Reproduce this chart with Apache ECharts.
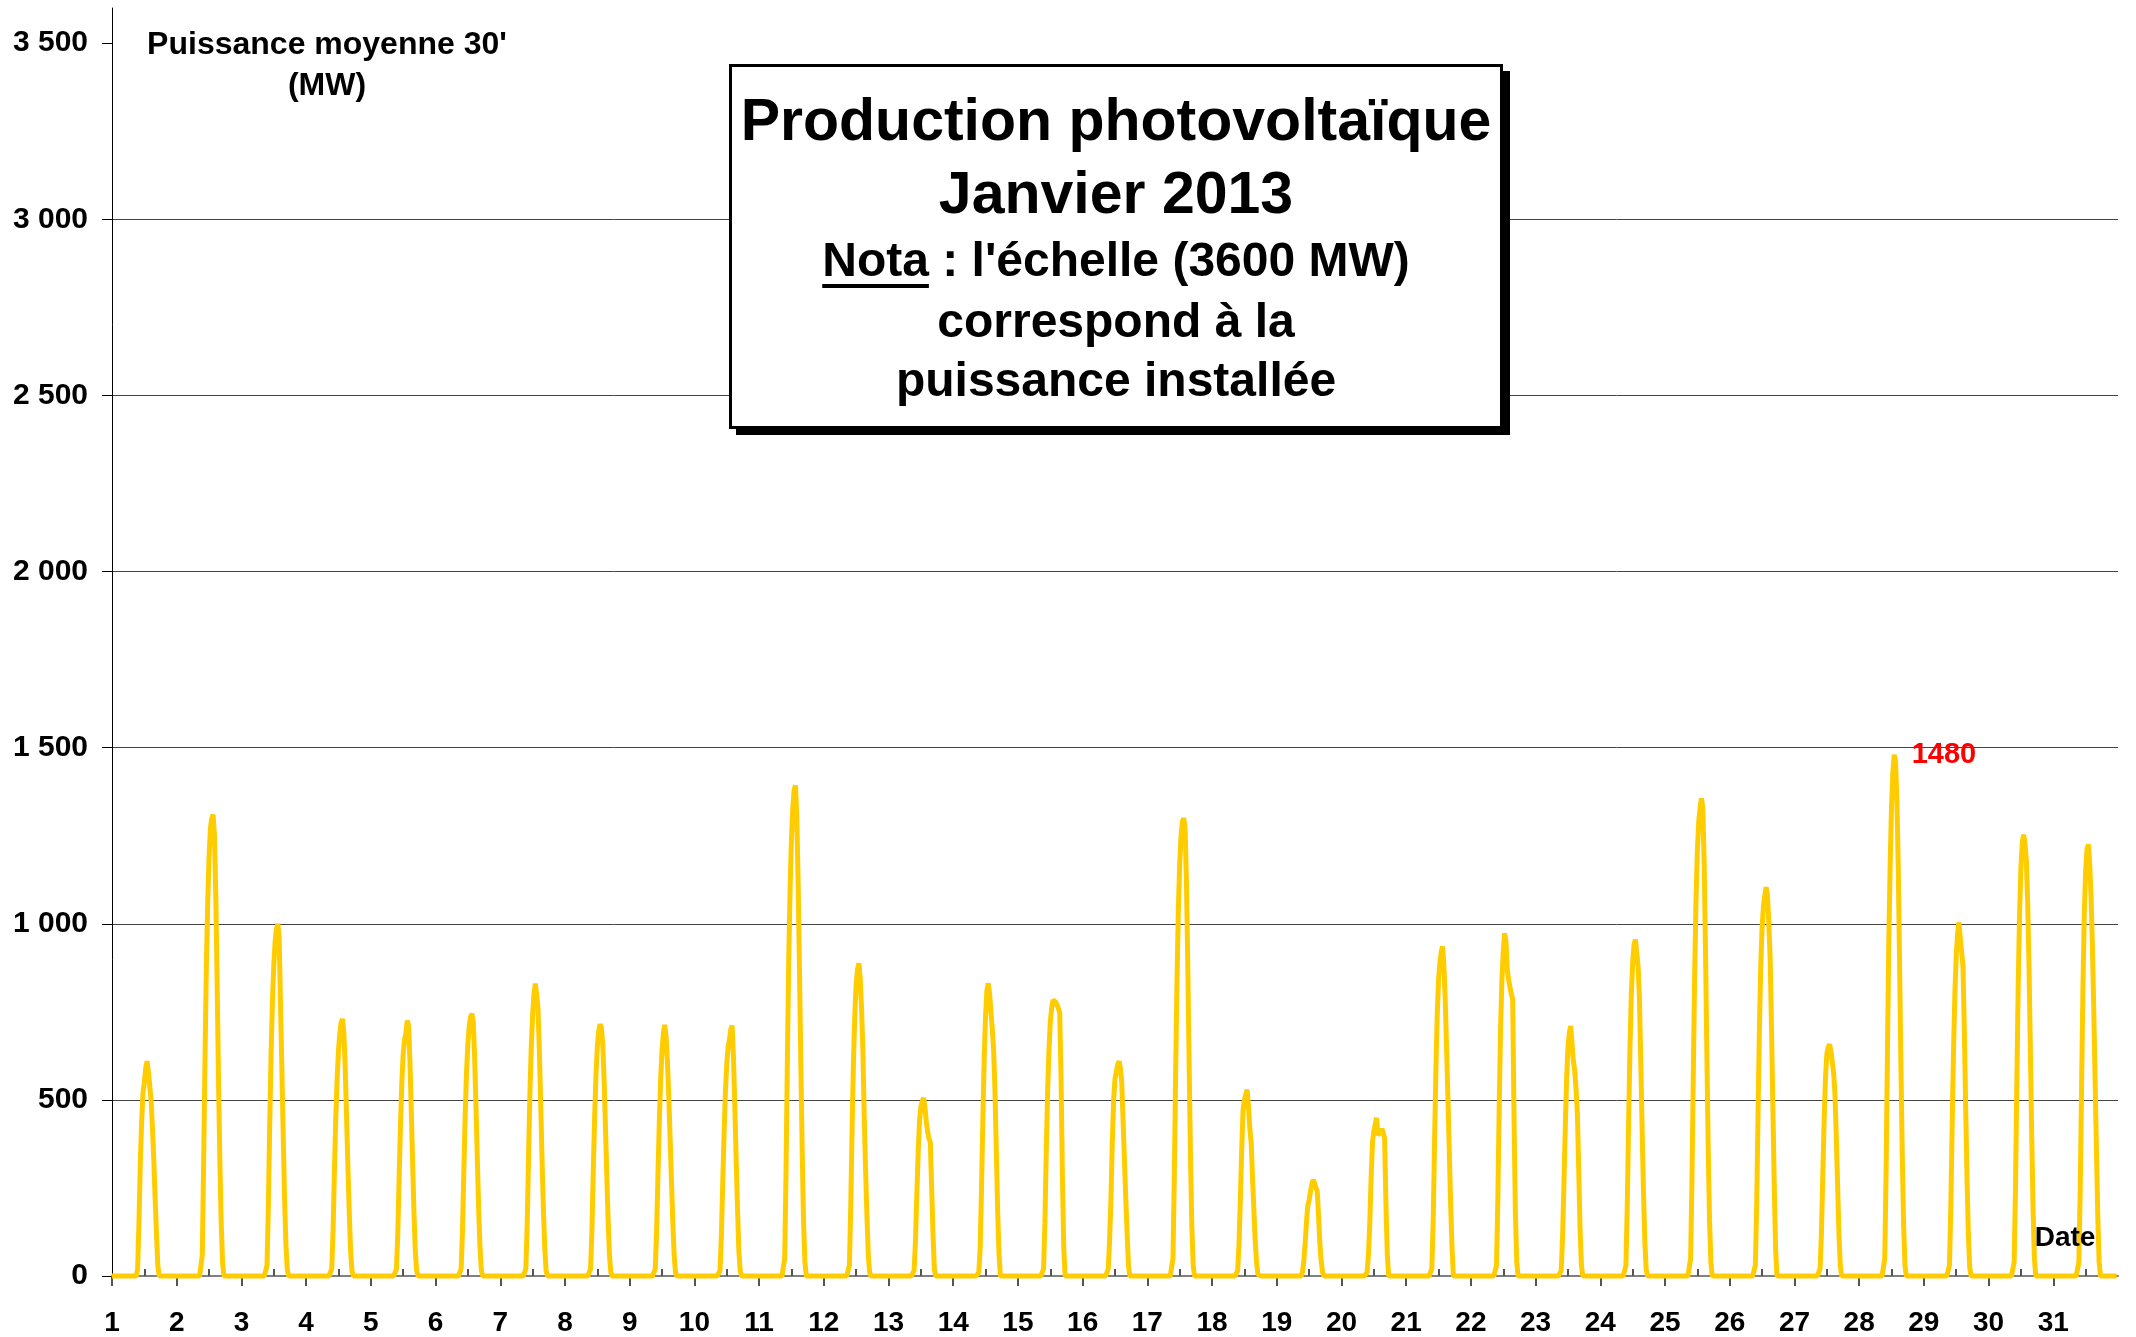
<!DOCTYPE html>
<html>
<head>
<meta charset="utf-8">
<title>Production photovoltaïque Janvier 2013</title>
<script src="https://cdn.jsdelivr.net/npm/echarts@6.0.0/dist/echarts.min.js"></script>
<style>
  html, body { margin: 0; padding: 0; background: #fff; }
  #chart { width: 2136px; height: 1337px; }
</style>
</head>
<body>
<div id="chart"></div>
<script>
// jours du mois
const days = [1, 2, 3, 4, 5, 6, 7, 8, 9, 10, 11, 12, 13, 14, 15, 16,
  17, 18, 19, 20, 21, 22, 23, 24, 25, 26, 27, 28, 29, 30, 31];
// graduations de l'axe des puissances (MW)
const yTicks = [0, 500, 1000, 1500, 2000, 2500, 3000, 3500];

// puissance moyenne 30' (MW), pas demi-horaires de 9h00 à 17h30, reste de la journée à 0
const firstSlot = 18;
const slotsPerDay = 48;
const jour01 = [0, 20, 150, 320, 440, 520, 550, 590, 610, 580, 540, 500, 420, 330, 220, 120, 30, 0];
const jour02 = [0, 60, 330, 620, 880, 1060, 1190, 1270, 1300, 1310, 1250, 1080, 830, 560, 330, 150, 40, 0];
const jour03 = [0, 30, 200, 430, 630, 780, 880, 950, 985, 1000, 960, 770, 590, 400, 220, 90, 20, 0];
const jour04 = [0, 20, 130, 300, 450, 560, 640, 690, 720, 730, 690, 590, 450, 310, 180, 70, 15, 0];
const jour05 = [0, 20, 120, 280, 430, 550, 630, 670, 690, 725, 710, 610, 470, 320, 180, 70, 15, 0];
const jour06 = [0, 20, 130, 300, 460, 580, 660, 710, 735, 745, 720, 620, 480, 330, 190, 80, 15, 0];
const jour07 = [0, 20, 150, 340, 520, 650, 740, 800, 830, 800, 760, 640, 490, 330, 190, 80, 15, 0];
const jour08 = [0, 20, 130, 300, 450, 570, 650, 695, 715, 705, 660, 560, 430, 290, 160, 60, 10, 0];
const jour09 = [0, 20, 130, 290, 440, 560, 640, 690, 713, 680, 610, 510, 390, 270, 150, 60, 10, 0];
const jour10 = [0, 15, 110, 260, 400, 520, 600, 650, 670, 700, 711, 620, 480, 330, 190, 70, 15, 0];
const jour11 = [0, 50, 300, 620, 900, 1100, 1240, 1330, 1380, 1393, 1300, 1110, 860, 590, 350, 150, 40, 0];
const jour12 = [0, 30, 200, 420, 610, 740, 830, 870, 888, 846, 760, 640, 450, 300, 170, 60, 10, 0];
const jour13 = [0, 15, 100, 230, 350, 440, 480, 495, 506, 480, 440, 410, 390, 380, 250, 120, 20, 0];
const jour14 = [0, 10, 80, 250, 450, 620, 740, 810, 831, 800, 750, 700, 640, 520, 350, 180, 60, 0];
const jour15 = [0, 20, 150, 350, 520, 640, 720, 760, 783, 780, 778, 775, 760, 747, 560, 280, 80, 0];
const jour16 = [0, 20, 100, 220, 380, 500, 560, 580, 600, 610, 590, 550, 440, 330, 220, 120, 30, 0];
const jour17 = [0, 50, 280, 580, 840, 1040, 1170, 1250, 1290, 1300, 1270, 1120, 880, 600, 340, 140, 30, 0];
const jour18 = [0, 15, 90, 220, 360, 470, 500, 515, 529, 480, 420, 380, 280, 190, 100, 40, 5, 0];
const jour19 = [0, 10, 40, 90, 150, 200, 215, 240, 260, 273, 265, 250, 242, 170, 90, 40, 10, 0];
const jour20 = [0, 10, 60, 150, 280, 380, 410, 430, 449, 400, 400, 410, 418, 405, 392, 200, 60, 0];
const jour21 = [0, 20, 150, 370, 580, 740, 840, 890, 920, 936, 880, 780, 640, 500, 350, 200, 80, 0];
const jour22 = [0, 30, 220, 480, 700, 840, 920, 973, 950, 869, 840, 820, 800, 786, 450, 180, 40, 0];
const jour23 = [0, 15, 110, 260, 420, 560, 650, 690, 710, 660, 610, 584, 530, 460, 300, 130, 30, 0];
const jour24 = [0, 30, 200, 440, 650, 800, 890, 940, 955, 957, 880, 790, 610, 420, 240, 100, 20, 0];
const jour25 = [0, 50, 280, 580, 860, 1070, 1210, 1290, 1330, 1356, 1330, 1180, 930, 640, 370, 160, 40, 0];
const jour26 = [0, 30, 200, 460, 700, 880, 990, 1050, 1080, 1104, 1080, 1000, 900, 700, 480, 260, 80, 0];
const jour27 = [0, 20, 120, 280, 440, 560, 630, 650, 658, 640, 610, 580, 520, 400, 260, 120, 30, 0];
const jour28 = [0, 50, 300, 640, 950, 1170, 1330, 1430, 1480, 1460, 1350, 1160, 880, 590, 340, 140, 30, 0];
const jour29 = [0, 30, 200, 430, 640, 800, 910, 970, 1004, 960, 920, 880, 700, 480, 280, 120, 25, 0];
const jour30 = [0, 40, 260, 560, 830, 1030, 1160, 1230, 1253, 1230, 1180, 1060, 880, 640, 400, 190, 50, 0];
const jour31 = [0, 40, 250, 540, 820, 1030, 1150, 1211, 1225, 1170, 1080, 940, 760, 560, 360, 170, 40, 0];

const profiles = [jour01, jour02, jour03, jour04, jour05, jour06, jour07, jour08, jour09, jour10,
  jour11, jour12, jour13, jour14, jour15, jour16, jour17, jour18, jour19, jour20, jour21, jour22,
  jour23, jour24, jour25, jour26, jour27, jour28, jour29, jour30, jour31];

// série complète : x = jour + fraction de journée
const serie = [];
days.forEach(function (d, i) {
  for (let s = 0; s < slotsPerDay; s++) {
    const k = s - firstSlot;
    const v = (k >= 0 && k < profiles[i].length) ? profiles[i][k] : 0;
    serie.push([d + s / slotsPerDay, v]);
  }
});
const middayTicks = days.map(function (d) { return d + 0.5; });

const FONT = '"Liberation Sans", Arial, sans-serif';

function milliers(v) {
  return String(v).replace(/\B(?=(\d{3})+(?!\d))/g, ' ');
}

// soulignement de "Nota" : mesure du texte
const ctx = document.createElement('canvas').getContext('2d');
ctx.font = 'bold 48px ' + FONT;
const notaLine = "Nota : l'échelle (3600 MW)";
const lineW = ctx.measureText(notaLine).width;
const notaW = ctx.measureText('Nota').width;
const boxCx = 1116;

const chart = echarts.init(document.getElementById('chart'));
const option = {
  animation: false,
  backgroundColor: '#fff',
  grid: { left: 112, right: 18, top: 8, bottom: 61 },
  xAxis: [
    {
      type: 'value',
      min: 1,
      max: 32,
      interval: 1,
      axisLine: { show: true, lineStyle: { color: '#808080', width: 2 } },
      axisTick: { show: true, inside: false, length: 10, lineStyle: { color: '#555', width: 2 } },
      axisLabel: {
        margin: 33,
        color: '#000',
        fontFamily: FONT,
        fontWeight: 'bold',
        fontSize: 28,
        showMaxLabel: false,
        formatter: function (v) { return v < 32 ? String(v) : ''; }
      },
      splitLine: { show: false }
    },
    {
      type: 'value',
      min: 1,
      max: 32,
      position: 'bottom',
      axisLine: { show: false },
      axisTick: { show: true, inside: true, length: 7, customValues: middayTicks, lineStyle: { color: '#555', width: 2 } },
      axisLabel: { show: false },
      splitLine: { show: false }
    }
  ],
  yAxis: {
    type: 'value',
    min: 0,
    max: 3600,
    interval: 500,
    axisLine: { show: true, lineStyle: { color: '#000', width: 1 } },
    axisTick: { show: true, length: 10, customValues: yTicks, lineStyle: { color: '#000' } },
    axisLabel: {
      margin: 24,
      color: '#000',
      fontFamily: FONT,
      fontWeight: 'bold',
      fontSize: 30,
      showMaxLabel: false,
      formatter: function (v) { return v > 3500 ? '' : milliers(v); }
    },
    splitLine: { show: true, showMaxLine: false, lineStyle: { color: '#444', width: 1 } }
  },
  series: [
    {
      name: 'Production photovoltaïque',
      type: 'line',
      data: serie,
      showSymbol: false,
      symbol: 'none',
      clip: false,
      z: 5,
      lineStyle: { color: '#FFCC00', width: 5 },
      itemStyle: { color: '#FFCC00' },
      markPoint: {
        symbol: 'circle',
        symbolSize: 1,
        itemStyle: { color: 'rgba(0,0,0,0)' },
        data: [{ type: 'max' }],
        label: {
          show: true,
          position: 'right',
          distance: 17,
          color: '#FF0000',
          fontFamily: FONT,
          fontWeight: 'bold',
          fontSize: 29,
          formatter: '{c}'
        }
      }
    }
  ],
  graphic: [
    // titre de l'axe des puissances
    {
      type: 'text', z: 100, x: 327, y: 45,
      style: {
        text: "Puissance moyenne 30'", align: 'center', verticalAlign: 'middle',
        font: 'bold 32px ' + FONT, fill: '#000', backgroundColor: '#fff', padding: [2, 6]
      }
    },
    {
      type: 'text', z: 100, x: 327, y: 86,
      style: { text: '(MW)', align: 'center', verticalAlign: 'middle', font: 'bold 32px ' + FONT, fill: '#000' }
    },
    // ombre et cadre du titre
    {
      type: 'rect', z: 99,
      shape: { x: 736, y: 71, width: 774, height: 364 },
      style: { fill: '#000' }
    },
    {
      type: 'rect', z: 100,
      shape: { x: 730.5, y: 65.5, width: 771, height: 362 },
      style: { fill: '#fff', stroke: '#000', lineWidth: 3 }
    },
    {
      type: 'text', z: 101, x: boxCx, y: 124,
      style: { text: 'Production photovoltaïque', align: 'center', verticalAlign: 'middle', font: 'bold 59px ' + FONT, fill: '#000' }
    },
    {
      type: 'text', z: 101, x: boxCx, y: 197,
      style: { text: 'Janvier 2013', align: 'center', verticalAlign: 'middle', font: 'bold 59px ' + FONT, fill: '#000' }
    },
    {
      type: 'text', z: 101, x: boxCx, y: 263,
      style: { text: notaLine, align: 'center', verticalAlign: 'middle', font: 'bold 48px ' + FONT, fill: '#000' }
    },
    {
      type: 'line', z: 101,
      shape: { x1: boxCx - lineW / 2, y1: 286, x2: boxCx - lineW / 2 + notaW, y2: 286 },
      style: { stroke: '#000', lineWidth: 4 }
    },
    {
      type: 'text', z: 101, x: boxCx, y: 324,
      style: { text: 'correspond à la', align: 'center', verticalAlign: 'middle', font: 'bold 48px ' + FONT, fill: '#000' }
    },
    {
      type: 'text', z: 101, x: boxCx, y: 383,
      style: { text: 'puissance installée', align: 'center', verticalAlign: 'middle', font: 'bold 48px ' + FONT, fill: '#000' }
    },
    // libellé de l'axe des dates
    {
      type: 'text', z: 100, x: 2065, y: 1238,
      style: { text: 'Date', align: 'center', verticalAlign: 'middle', font: 'bold 28px ' + FONT, fill: '#000' }
    }
  ]
};
chart.setOption(option);
window.addEventListener('resize', function () {
  chart.resize();
});
</script>
</body>
</html>
